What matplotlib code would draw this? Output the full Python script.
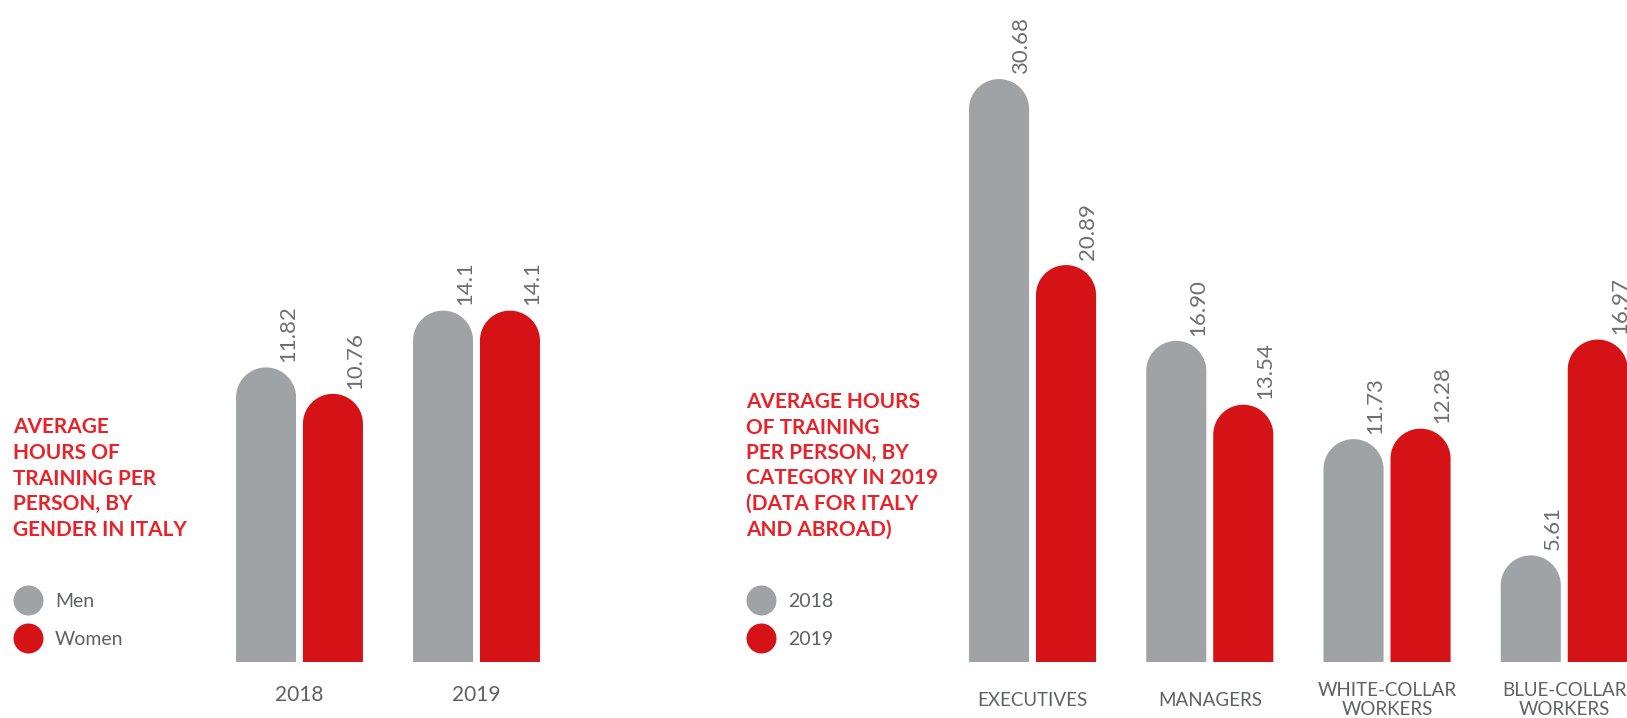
import numpy as np
import matplotlib.pyplot as plt
from matplotlib.lines import Line2D
from matplotlib.patches import Polygon

W, H = 1627, 718
GRAY = '#a0a3a6'
RED = '#d51317'
TITLE_RED = '#ea2228'
TEXT_GRAY = '#5f6062'
LABEL_GRAY = '#6d6e71'

# ore medie di formazione per genere (Italia)
years = ['2018', '2019']
men = [11.82, 14.1]
women = [10.76, 14.1]

# ore medie di formazione per categoria
categories = ['EXECUTIVES', 'MANAGERS', 'WHITE-COLLAR\nWORKERS', 'BLUE-COLLAR\nWORKERS']
hours_2018 = [30.68, 16.90, 11.73, 5.61]
hours_2019 = [20.89, 13.54, 12.28, 16.97]

plt.rcParams['font.family'] = ['Lato', 'DejaVu Sans']

fig = plt.figure(figsize=(W / 100, H / 100), dpi=100)


def px_axes(left, right, top, bottom):
    # axes placed in pixel units measured from the top-left corner
    return fig.add_axes([left / W, (H - bottom) / H, (right - left) / W, (bottom - top) / H])


def rounded_bar(ax, x, h, w, color):
    # bar with a half-circle top, the cap stays round on screen
    (x0, y0), (x1, y1) = ax.transData.transform([(0, 0), (1, 1)])
    rx = w / 2
    ry = rx * (x1 - x0) / (y1 - y0)
    t = np.linspace(np.pi, 0, 80)
    xs = np.concatenate([[x - rx], x + rx * np.cos(t), [x + rx]])
    ys = np.concatenate([[0], h - ry + ry * np.sin(t), [0]])
    ax.add_patch(Polygon(np.column_stack([xs, ys]), closed=True,
                         facecolor=color, edgecolor='none'))


def draw_panel(ax, names, a, b, fmt, ymax, fs, pad):
    x = np.arange(len(names))
    ax.set_xlim(-0.5, len(names) - 0.5)
    ax.set_ylim(0, ymax)
    w, off = 0.339, 0.189
    for xi, va, vb in zip(x, a, b):
        for cx, v, c in [(xi - off, va, GRAY), (xi + off, vb, RED)]:
            rounded_bar(ax, cx, v, w, c)
            ax.annotate(fmt.format(v), xy=(cx + w / 2, v), xytext=(-5.8, 3.8),
                        textcoords='offset points', rotation=90, ha='center',
                        va='bottom', fontsize=16, color=LABEL_GRAY)
    ax.set_xticks(x, names)
    ax.tick_params(axis='x', length=0, pad=pad, labelsize=fs, labelcolor=TEXT_GRAY)
    for lab in ax.get_xticklabels():
        lab.set_va('center')
        lab.set_linespacing(1.15)
    ax.set_yticks([])
    for s in ax.spines.values():
        s.set_visible(False)
    ax.patch.set_alpha(0)


def title(x, y0, lines, pitch=25.7):
    for i, line in enumerate(lines):
        fig.text(x / W, 1 - (y0 + i * pitch) / H, line, color=TITLE_RED,
                 fontsize=15, fontweight='bold', va='baseline', ha='left')


def legend(x, y, labels):
    handles = [Line2D([], [], marker='o', ls='none', markersize=21.6,
                      markerfacecolor=c, markeredgecolor='none') for c in (GRAY, RED)]
    fig.legend(handles, labels, loc='upper left', bbox_to_anchor=(x / W, 1 - y / H),
               frameon=False, fontsize=14, labelcolor=TEXT_GRAY, handlelength=1.55,
               handletextpad=0.6, labelspacing=1.08, borderpad=0, borderaxespad=0)


ax1 = px_axes(211, 565, 662 - 20 * 24.92, 662)
draw_panel(ax1, years, men, women, '{:g}', 20, 15, 23.8)

ax2 = px_axes(943.9, 1652.9, 662 - 32 * 19.0, 662)
draw_panel(ax2, categories, hours_2018, hours_2019, '{:.2f}', 32, 13.5, 27.5)

title(13, 433.3, ['AVERAGE', 'HOURS OF', 'TRAINING PER', 'PERSON, BY', 'GENDER IN ITALY'])
title(746, 408, ['AVERAGE HOURS', 'OF TRAINING', 'PER PERSON, BY', 'CATEGORY IN 2019',
                 '(DATA FOR ITALY', 'AND ABROAD)'], pitch=25.5)

legend(13, 593, ['Men', 'Women'])
legend(746, 593, ['2018', '2019'])

fig.savefig('out.png', dpi=100, facecolor='white')
